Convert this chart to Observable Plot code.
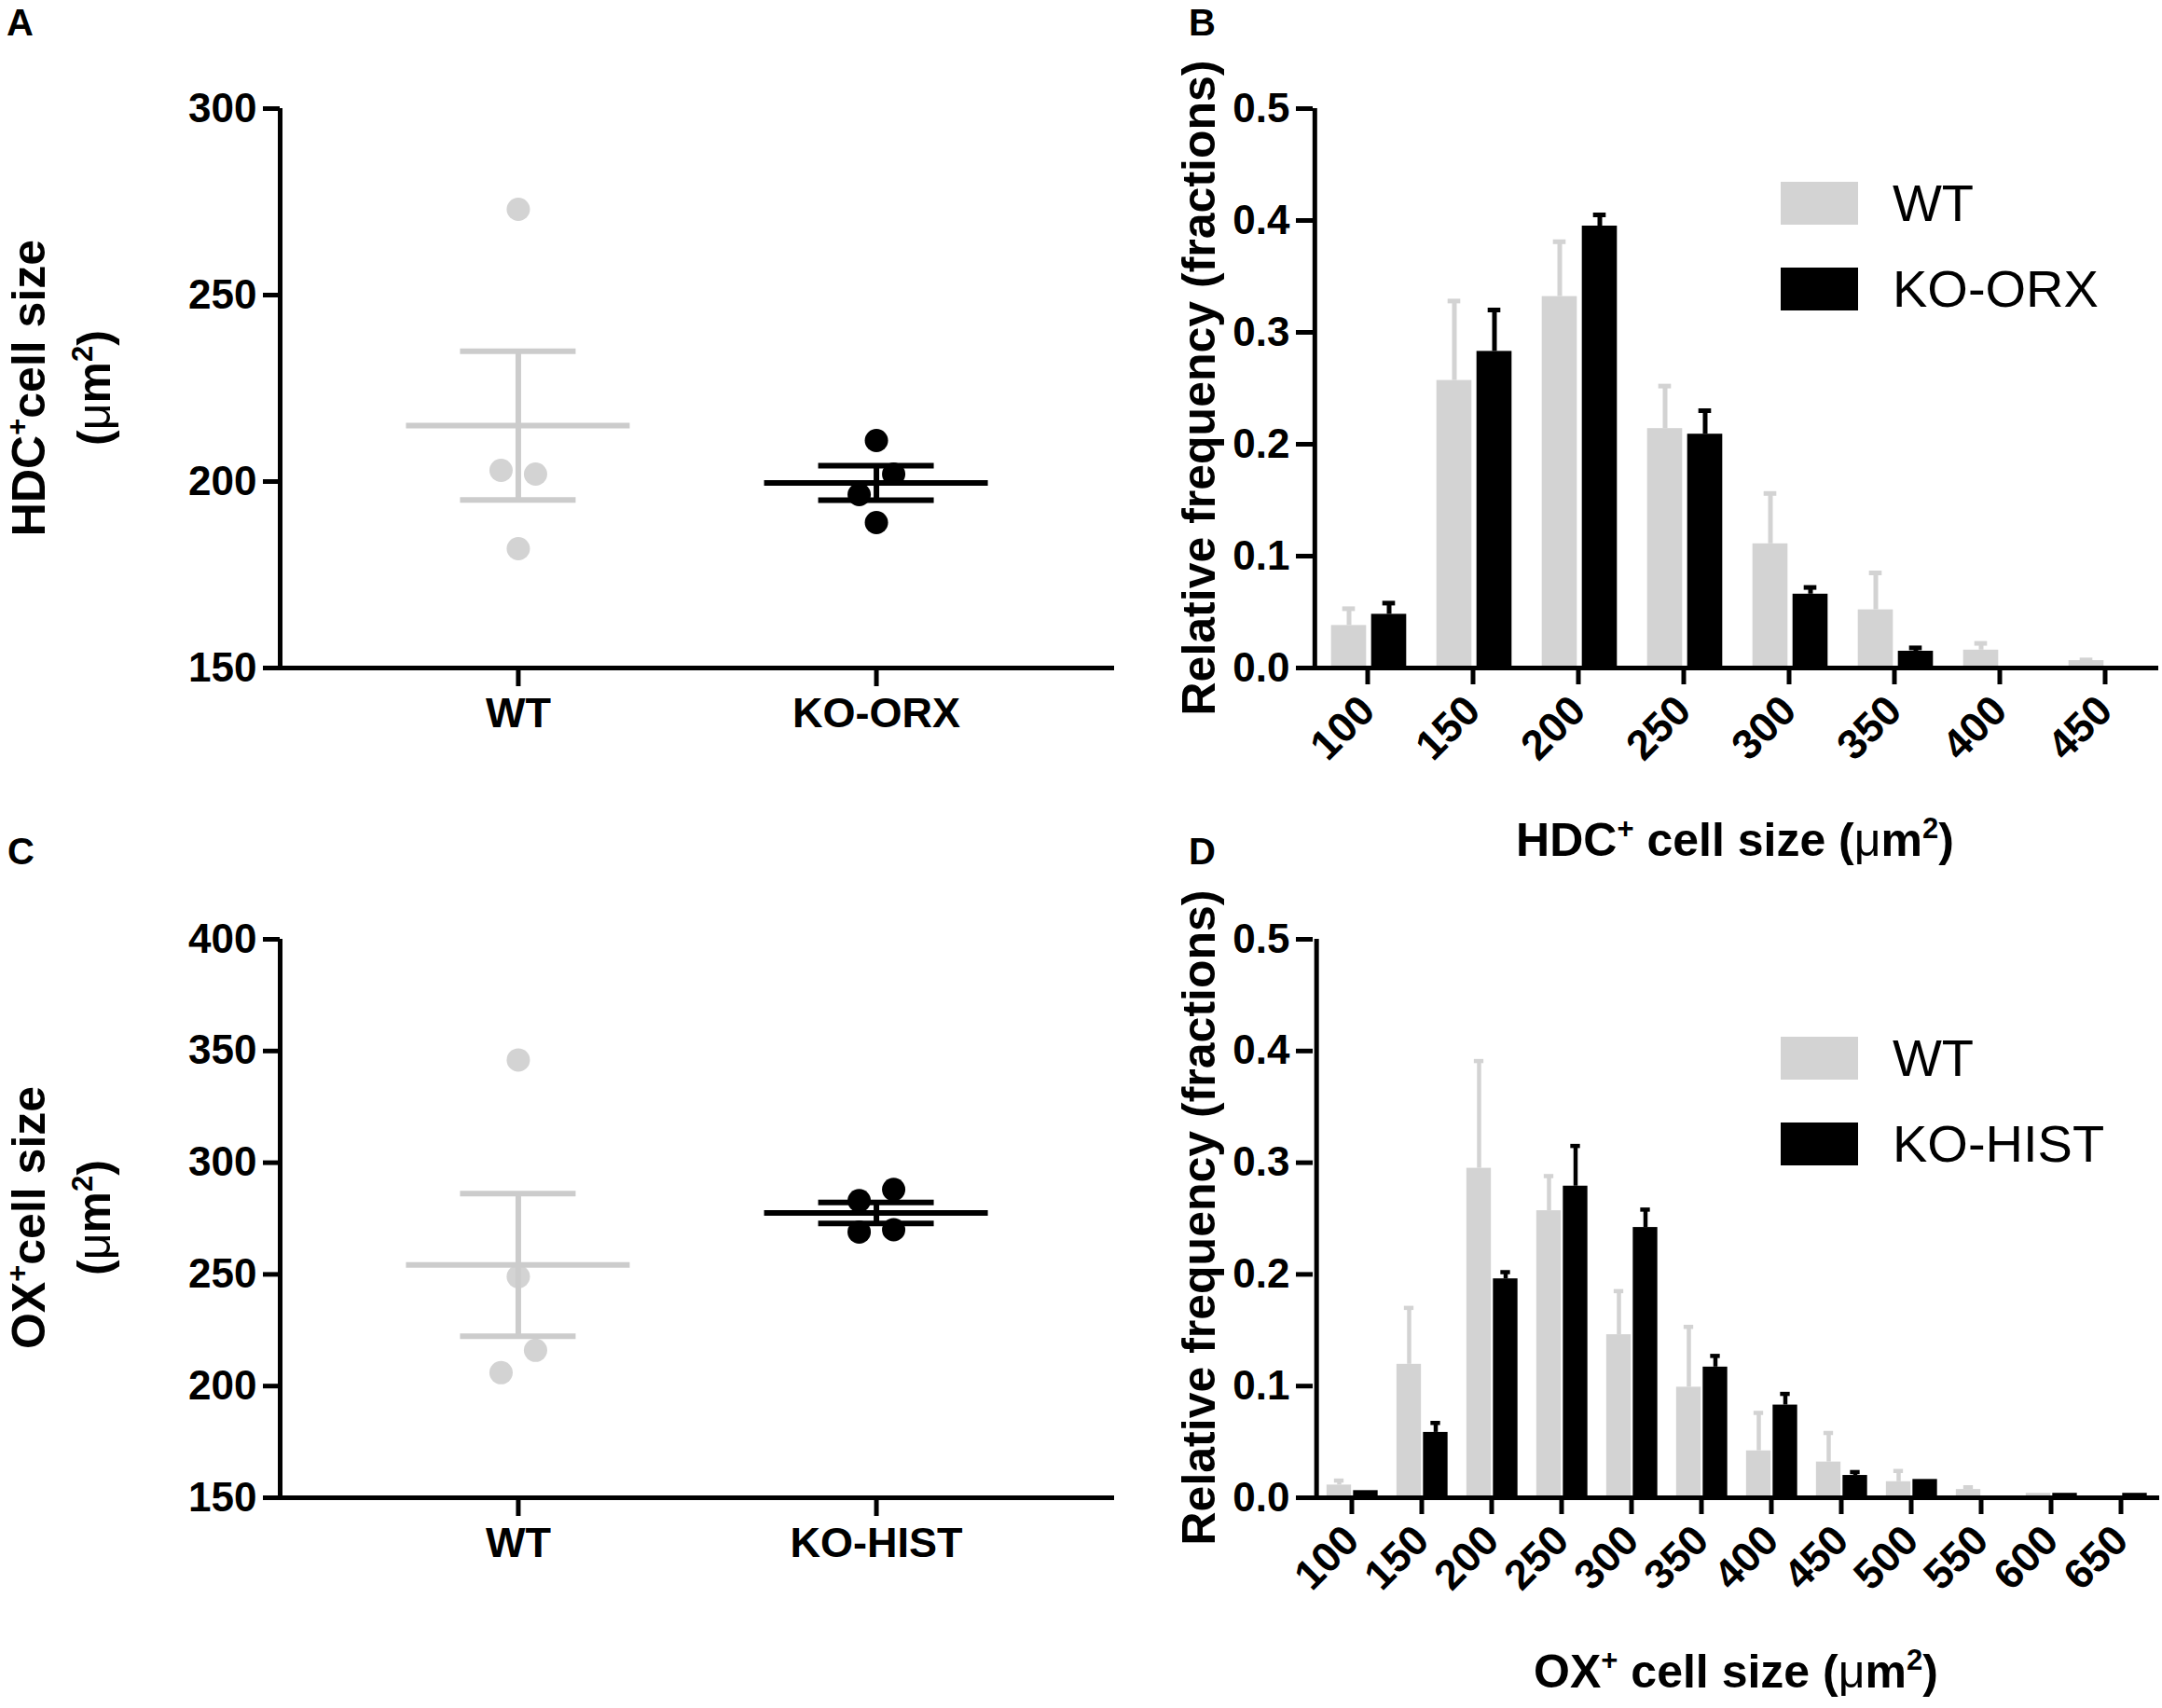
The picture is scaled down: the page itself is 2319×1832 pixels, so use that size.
<!DOCTYPE html>
<html><head><meta charset="utf-8">
<script src="https://cdn.jsdelivr.net/npm/d3@7"></script>
<script src="https://cdn.jsdelivr.net/npm/@observablehq/plot@0.6"></script>
<style>
html,body{margin:0;padding:0;background:#fff;}
#fig{position:relative;width:2319px;height:1832px;overflow:hidden;background:#fff;font-family:"Liberation Sans",Arial,sans-serif;color:#000;}
.panel{position:absolute;}
.letter{position:absolute;font-weight:bold;font-size:40px;line-height:40px;white-space:nowrap;}
.title{position:absolute;font-weight:bold;font-size:50px;line-height:70px;white-space:nowrap;text-align:center;}
.title sup{font-size:0.62em;line-height:0;vertical-align:0.62em;}
.title .mu{font-weight:normal;}
.leg{position:absolute;}
.leg *{font-size:56px !important;font-family:"Liberation Sans",Arial,sans-serif !important;font-weight:normal !important;line-height:46px !important;color:#000 !important;overflow:visible !important;text-overflow:clip !important;}
.leg > div > div{margin:0 0 46px 0 !important;padding:0 !important;}
.leg svg{margin-right:37px !important;}
</style></head><body><div id="fig"></div><script>
// ---------- data ----------
const groupsA = ["WT", "KO-ORX"];
const cellSizeA_WT = [273, 203, 202, 182];
const cellSizeA_KO = [211, 196.5, 202, 189];
const yTicksA = [150, 200, 250, 300];

const groupsC = ["WT", "KO-HIST"];
const cellSizeC_WT = [346, 249, 206, 216];
const cellSizeC_KO = [283, 288, 269, 270];
const yTicksC = [150, 200, 250, 300, 350, 400];

const binsB = [100, 150, 200, 250, 300, 350, 400, 450];
const freqB_WT = [0.038, 0.257, 0.332, 0.214, 0.111, 0.052, 0.016, 0.0066];
const freqB_WT_top = [0.053, 0.328, 0.381, 0.252, 0.156, 0.085, 0.022, 0.0072];
const freqB_KO = [0.048, 0.283, 0.395, 0.209, 0.066, 0.015, 0, 0];
const freqB_KO_top = [0.058, 0.320, 0.405, 0.230, 0.072, 0.018, 0, 0];

const binsD = [100, 150, 200, 250, 300, 350, 400, 450, 500, 550, 600, 650];
const freqD_WT = [0.0114, 0.1195, 0.295, 0.257, 0.146, 0.099, 0.042, 0.032, 0.0144, 0.0074, 0.004, 0];
const freqD_WT_top = [0.0154, 0.170, 0.391, 0.288, 0.185, 0.153, 0.076, 0.058, 0.024, 0.0094, 0.004, 0];
const freqD_KO = [0.0064, 0.0585, 0.196, 0.279, 0.242, 0.117, 0.083, 0.020, 0.0164, 0, 0.004, 0.004];
const freqD_KO_top = [0.0064, 0.067, 0.202, 0.315, 0.258, 0.127, 0.093, 0.023, 0.0164, 0, 0.004, 0.004];
const freqTicks = [0, 0.1, 0.2, 0.3, 0.4, 0.5];

// ---------- helpers ----------
const fig = document.getElementById("fig");
const GRAY = "#d3d3d3", GRAYLINE = "#cccccc", BLACK = "#000";
const svgStyle = {fontFamily: "Liberation Sans, Arial, sans-serif", fontSize: "44px", fontWeight: "bold", background: "transparent", overflow: "visible", color: "#000"};

function place(node, left, top, w) {
  const d = document.createElement("div");
  d.className = "panel";
  d.style.left = left + "px"; d.style.top = top + "px";
  if (w) d.style.width = w + "px";
  d.appendChild(node); fig.appendChild(d);
}
function letter(t, left, baseline) {
  const d = document.createElement("div"); d.className = "letter"; d.textContent = t;
  d.style.left = left + "px"; d.style.top = (baseline - 34) + "px"; fig.appendChild(d);
}
function vTitle(html, cx, cy, lines) {
  const d = document.createElement("div"); d.className = "title"; d.innerHTML = html;
  const w = 900, h = 70 * lines;
  d.style.width = w + "px"; d.style.height = h + "px";
  d.style.left = (cx - w / 2) + "px"; d.style.top = (cy - h / 2) + "px";
  d.style.transform = "rotate(-90deg)"; fig.appendChild(d);
}
function hTitle(html, cx, baseline) {
  const d = document.createElement("div"); d.className = "title"; d.innerHTML = html;
  const w = 1000; d.style.width = w + "px";
  d.style.left = (cx - w / 2) + "px"; d.style.top = (baseline - 52) + "px"; fig.appendChild(d);
}
function dodgeOffsets(vals, pxPerUnit, diameter, spacing) {
  const idx = vals.map((v, i) => i).sort((a, b) => vals[b] - vals[a]);
  const clusters = []; let cur = [idx[0]];
  for (let k = 1; k < idx.length; k++) {
    if ((vals[idx[k - 1]] - vals[idx[k]]) * pxPerUnit < diameter * 1.1) cur.push(idx[k]);
    else { clusters.push(cur); cur = [idx[k]]; }
  }
  clusters.push(cur);
  const off = new Array(vals.length).fill(0);
  for (const c of clusters) { c.sort((a, b) => a - b); c.forEach((i, j) => off[i] = (j - (c.length - 1) / 2) * spacing); }
  return off;
}

function dotPanel({groups, series, yDomain, yTicks, left, top, mt, mb}) {
  const W = 1230, H = 900, ml = 300, mr = 35;
  const xDom = [-0.665, 1.665];
  const pxX = (W - ml - mr) / (xDom[1] - xDom[0]);
  const pxY = (H - mt - mb) / (yDomain[1] - yDomain[0]);
  const r = 12.5;
  const fills = [GRAY, BLACK], lines = [GRAYLINE, BLACK];
  const marks = [];
  series.forEach((vals, gi) => {
    const off = dodgeOffsets(vals, pxY, 24, 37);
    const pts = vals.map((v, i) => ({x: gi + off[i] / pxX, v}));
    const m = d3.mean(vals), s = d3.deviation(vals) / Math.sqrt(vals.length);
    const st = [{gi, m, lo: m - s, hi: m + s}];
    const mw = 120 / pxX, cw = 62 / pxX;
    marks.push(
      Plot.dot(pts, {x: "x", y: "v", r, fill: fills[gi], stroke: "none"}),
      Plot.ruleX(st, {x: "gi", y1: "lo", y2: "hi", stroke: lines[gi], strokeWidth: 6}),
      Plot.ruleY(st, {y: "m", x1: d => d.gi - mw, x2: d => d.gi + mw, stroke: lines[gi], strokeWidth: 6}),
      Plot.ruleY(st, {y: "lo", x1: d => d.gi - cw, x2: d => d.gi + cw, stroke: lines[gi], strokeWidth: 6}),
      Plot.ruleY(st, {y: "hi", x1: d => d.gi - cw, x2: d => d.gi + cw, stroke: lines[gi], strokeWidth: 6})
    );
  });
  const p = Plot.plot({
    width: W, height: H, marginLeft: ml, marginRight: mr, marginTop: mt, marginBottom: mb,
    style: svgStyle,
    x: {domain: xDom}, y: {domain: yDomain},
    marks: [
      ...marks,
      Plot.ruleY([yDomain[0]], {strokeWidth: 5}),
      Plot.ruleX([xDom[0]], {strokeWidth: 5}),
      Plot.axisY({ticks: yTicks, tickSize: 18, tickPadding: 7, strokeWidth: 5, label: null, tickFormat: d3.format("d")}),
      Plot.axisX({ticks: [0, 1], tickFormat: i => groups[i], tickSize: 20, tickPadding: 12, strokeWidth: 5, label: null, fontSize: 45})
    ]
  });
  place(p, left, top, W);
}

function barPanel({bins, wt, wtTop, ko, koTop, left, top, mt, mb, mr, barW, gap, c, capW, errW, legendLabels, legTop}) {
  const W = 1079, H = 900, ml = 168;
  const step = (W - ml - mr) / bins.length, half = step / 2;
  const wtL = c - gap / 2 - barW, wtR = c - gap / 2;
  const koL = c + gap / 2, koR = c + gap / 2 + barW;
  const wtC = (wtL + wtR) / 2, koC = (koL + koR) / 2;
  const rows = bins.map((b, i) => ({bin: b, wt: wt[i], wtTop: wtTop[i], ko: ko[i], koTop: koTop[i]}));
  const wtE = rows.filter(d => d.wtTop > d.wt), koE = rows.filter(d => d.koTop > d.ko);
  const p = Plot.plot({
    width: W, height: H, marginLeft: ml, marginRight: mr, marginTop: mt, marginBottom: mb,
    style: svgStyle,
    x: {type: "band", domain: bins, padding: 0},
    y: {domain: [0, 0.5]},
    marks: [
      Plot.barY(rows, {x: "bin", y: "wt", fill: GRAY, insetLeft: half + wtL, insetRight: half - wtR}),
      Plot.barY(rows, {x: "bin", y: "ko", fill: BLACK, insetLeft: half + koL, insetRight: half - koR}),
      Plot.ruleX(wtE, {x: "bin", y1: "wt", y2: "wtTop", dx: wtC, stroke: GRAY, strokeWidth: errW}),
      Plot.tickY(wtE, {x: "bin", y: "wtTop", insetLeft: half + wtC - capW / 2, insetRight: half - wtC - capW / 2, stroke: GRAY, strokeWidth: errW}),
      Plot.ruleX(koE, {x: "bin", y1: "ko", y2: "koTop", dx: koC, stroke: BLACK, strokeWidth: errW}),
      Plot.tickY(koE, {x: "bin", y: "koTop", insetLeft: half + koC - capW / 2, insetRight: half - koC - capW / 2, stroke: BLACK, strokeWidth: errW}),
      Plot.ruleY([0], {strokeWidth: 5}),
      Plot.ruleX([bins[0]], {dx: -half, strokeWidth: 5}),
      Plot.axisY({ticks: freqTicks, tickFormat: d3.format(".1f"), tickSize: 18, tickPadding: 7, strokeWidth: 5, label: null}),
      Plot.axisX({tickRotate: -45, tickSize: 18, tickPadding: 20, strokeWidth: 5, label: null, fontSize: 45})
    ]
  });
  place(p, left, top, W);
  const leg = Plot.legend({color: {type: "ordinal", domain: legendLabels, range: [GRAY, BLACK]}, legend: "swatches", columns: 1, swatchWidth: 83, swatchHeight: 46});
  const wrap = document.createElement("div"); wrap.className = "leg";
  wrap.style.left = "1910px"; wrap.style.top = legTop + "px"; wrap.style.width = "400px";
  wrap.appendChild(leg); fig.appendChild(wrap);
}

// ---------- panels ----------
dotPanel({groups: groupsA, series: [cellSizeA_WT, cellSizeA_KO], yDomain: [150, 300], yTicks: yTicksA, left: 0, top: 0, mt: 116, mb: 184});
dotPanel({groups: groupsC, series: [cellSizeC_WT, cellSizeC_KO], yDomain: [150, 400], yTicks: yTicksC, left: 0, top: 890, mt: 117, mb: 184});
barPanel({bins: binsB, wt: freqB_WT, wtTop: freqB_WT_top, ko: freqB_KO, koTop: freqB_KO_top, left: 1240, top: 0, mt: 116, mb: 184, mr: 4,
  barW: 38, gap: 5, c: 1.5, capW: 14, errW: 5, legendLabels: ["WT", "KO-ORX"], legTop: 195});
barPanel({bins: binsD, wt: freqD_WT, wtTop: freqD_WT_top, ko: freqD_KO, koTop: freqD_KO_top, left: 1240, top: 890, mt: 117, mb: 184, mr: 3,
  barW: 27, gap: 1.5, c: 0.75, capW: 11, errW: 4.5, legendLabels: ["WT", "KO-HIST"], legTop: 1112});

// ---------- titles & letters ----------
letter("A", 7, 38); letter("B", 1275, 38); letter("C", 8, 927); letter("D", 1275, 927);
vTitle('HDC<sup>+</sup>cell size<br>(<span class="mu">μ</span>m<sup>2</sup>)', 66, 416, 2);
vTitle('OX<sup>+</sup>cell size<br>(<span class="mu">μ</span>m<sup>2</sup>)', 66, 1306, 2);
vTitle('Relative frequency (fractions)', 1286, 416, 1);
vTitle('Relative frequency (fractions)', 1286, 1306, 1);
hTitle('HDC<sup>+</sup> cell size (<span class="mu">μ</span>m<sup>2</sup>)', 1861, 918);
hTitle('OX<sup>+</sup> cell size (<span class="mu">μ</span>m<sup>2</sup>)', 1862, 1810);
</script></body></html>
